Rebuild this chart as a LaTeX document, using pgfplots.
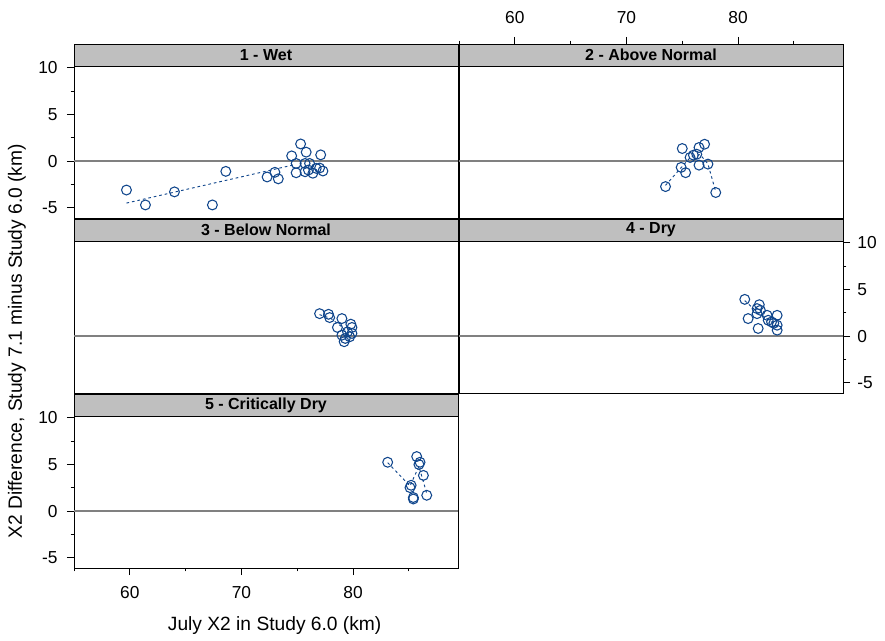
\documentclass[border=0pt]{standalone}
\usepackage{fontspec}
\setmainfont{Liberation Sans}
\usepackage{pgfplots}
\pgfplotsset{compat=1.18}
\definecolor{ptblue}{RGB}{16,70,140}
\definecolor{stripgray}{RGB}{191,191,191}
\definecolor{zerogray}{RGB}{128,128,128}
\pgfplotsset{
  panel/.style={
    width=288pt, height=130.5pt, scale only axis,
    xmin=55, xmax=89.4, ymin=-6.1, ymax=12.559,
    axis line style={black, line width=0.7pt},
    tick style={black, line width=0.6pt},
    tick align=outside,
    major tick length=5.25pt, minor tick length=2.5pt,
    xtick=\empty, ytick=\empty,
    ticklabel style={font=\fontsize{13}{15}\selectfont},
    /pgf/number format/assume math mode=true,
  },
  xt/.style={xtick={60,70,80}, minor xtick={55,65,75,85}},
  yt/.style={ytick={-5,0,5,10}, minor ytick={-2.5,2.5,7.5}},
  pts/.style={only marks, mark=o, mark size=3.7pt, color=ptblue, mark options={line width=0.8pt}},
  trend/.style={no marks, color=ptblue, line width=0.7pt, dash pattern=on 2pt off 2.2pt},
}
\newcommand{\strip}[1]{%
  \draw[black, line width=0.7pt, fill=stripgray] (axis cs:55,10.2) rectangle (axis cs:89.4,12.559);
  \node[font=\bfseries\fontsize{12}{14}\selectfont] at (axis cs:72.2,11.38) {#1};
  \addplot[zerogray, line width=1.3pt, no marks] coordinates {(55,0) (89.4,0)};
}
\begin{document}
\begin{tikzpicture}
% Panel 1 - Wet
\begin{axis}[panel, yt, ytick pos=left, yticklabel style={xshift=-3.5pt}, at={(55.5pt,-163.5pt)}, anchor=south west]
\strip{1 - Wet}
\addplot[trend] coordinates {(59.7,-4.5) (74.7,-0.4)};
\addplot[pts] coordinates {
(59.7,-3.1) (61.4,-4.7) (64.0,-3.3) (67.4,-4.7) (68.6,-1.1) (72.3,-1.7)
(73.0,-1.2) (73.3,-1.9) (74.5,0.56) (75.3,1.84) (75.8,0.96) (77.1,0.67)
(74.9,-0.25) (74.9,-1.25) (75.7,-0.25) (75.7,-1.14) (76.1,-0.25) (76.4,-1.3)
(76.7,-0.78) (77.0,-0.74) (77.3,-1.06) (76.0,-0.96)
};
\end{axis}
% Panel 2 - Above Normal
\begin{axis}[panel, xt, xtick pos=right, xticklabel pos=right, xticklabel style={yshift=6.5pt}, at={(344.25pt,-163.5pt)}, anchor=south west]
\strip{2 - Above Normal}
\addplot[trend] coordinates {(73.5,-2.6) (74.9,-0.7) (75.8,0.5) (76.6,0.7) (77.3,-0.3) (78.0,-3.3)};
\addplot[pts] coordinates {
(75.0,1.35) (73.5,-2.73) (74.9,-0.67) (75.3,-1.24) (75.7,0.39) (76.3,0.74)
(76.5,1.46) (77.0,1.81) (76.5,-0.43) (77.3,-0.32) (78.0,-3.37) (76.0,0.64)
};
\end{axis}
% Panel 3 - Below Normal
\begin{axis}[panel, at={(55.5pt,-294.75pt)}, anchor=south west]
\strip{3 - Below Normal}
\addplot[trend] coordinates {(77.0,2.3) (78.0,1.9) (79.0,1.0) (79.6,0.2)};
\addplot[pts] coordinates {
(77.0,2.41) (77.8,2.34) (77.9,1.99) (79.0,1.88) (78.6,0.93) (79.8,1.28)
(79.9,0.93) (79.5,0.46) (79.9,0.29) (79.2,-0.6) (79.3,-0.25) (79.0,0.1) (79.7,-0.07)
};
\end{axis}
% Panel 4 - Dry
\begin{axis}[panel, yt, ytick pos=right, yticklabel pos=right, yticklabel style={xshift=2pt}, at={(344.25pt,-294.75pt)}, anchor=south west]
\strip{4 - Dry}
\addplot[trend] coordinates {(80.6,3.8) (81.7,2.6) (82.7,1.8) (83.5,1.0)};
\addplot[pts] coordinates {
(80.6,3.94) (80.9,1.88) (81.9,3.37) (81.7,2.95) (81.7,2.41) (81.8,0.82)
(82.6,2.23) (82.7,1.70) (83.5,2.23) (83.0,1.52) (83.5,1.17) (83.5,0.64)
(82.0,2.77) (83.2,1.38)
};
\end{axis}
% Panel 5 - Critically Dry
\begin{axis}[panel, xt, yt, xtick pos=left, ytick pos=left, xticklabel style={yshift=-5pt}, yticklabel style={xshift=-3.5pt}, at={(55.5pt,-426pt)}, anchor=south west]
\strip{5 - Critically Dry}
\addplot[trend] coordinates {(83.1,5.2) (85.1,2.7) (85.9,4.8) (86.6,1.9)};
\addplot[pts] coordinates {
(83.1,5.24) (85.7,5.85) (86.0,5.24) (85.9,5.0) (86.3,3.83) (85.2,2.77)
(85.1,2.52) (85.4,1.46) (86.6,1.70) (85.4,1.3)
};
\end{axis}
\node[rotate=90, font=\fontsize{14.4}{16}\selectfont] at (12.75pt,-256pt) {X2 Difference, Study 7.1 minus Study 6.0 (km)};
\node[font=\fontsize{14.4}{16}\selectfont] at (206pt,-469.5pt) {July X2 in Study 6.0 (km)};
\pgfresetboundingbox
\useasboundingbox (0,0) rectangle (663.75pt,-480.75pt);
\end{tikzpicture}
\end{document}
